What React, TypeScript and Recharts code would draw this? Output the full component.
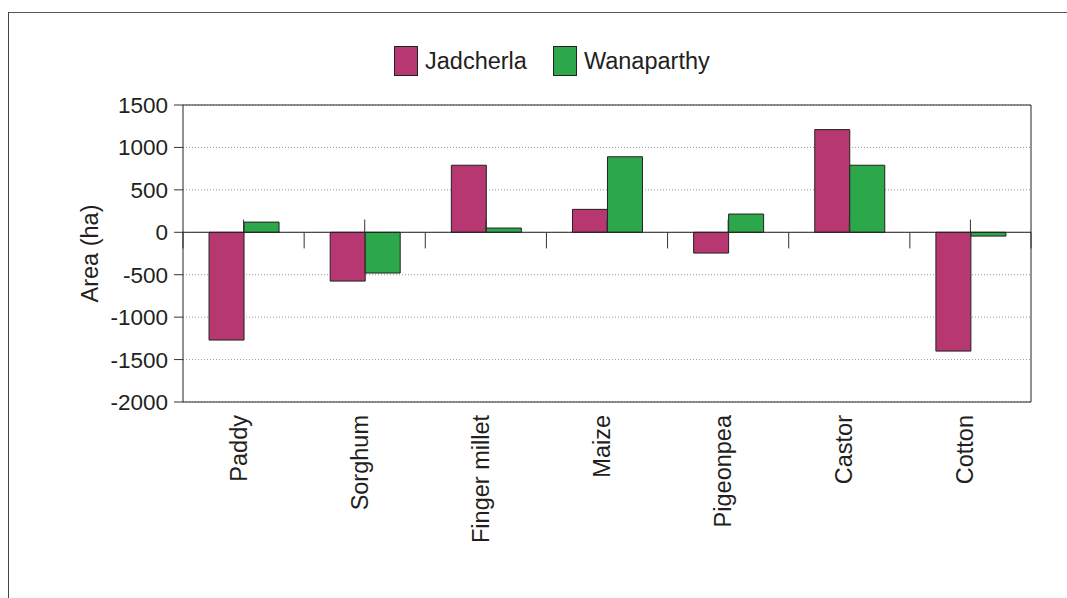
import React from "react";
import {
  BarChart,
  Bar,
  XAxis,
  YAxis,
  CartesianGrid,
  ReferenceLine,
  Legend,
} from "recharts";

const categories = ["Paddy", "Sorghum", "Finger millet", "Maize", "Pigeonpea", "Castor", "Cotton"];
const jadcherla = [-1270, -575, 790, 270, -245, 1210, -1400];
const wanaparthy = [120, -480, 50, 890, 215, 790, -45];
const yTicks = [-2000, -1500, -1000, -500, 0, 500, 1000, 1500];

const FONT = '"Liberation Sans", Arial, sans-serif';
const INK = "#231f20";
const MAGENTA = "#b73771";
const GREEN = "#2ca84a";

const data = categories.map((crop, i) => ({
  crop,
  Jadcherla: jadcherla[i],
  Wanaparthy: wanaparthy[i],
}));

// group boundaries live on a hidden 0..n numeric axis
const boundaries = Array.from({ length: categories.length + 1 }, (_, i) => i);
const groupIndex = (d: any) => categories.indexOf(d.crop);

function CropTick({ x, y, payload }: any) {
  return (
    <text
      x={x}
      y={y}
      dx={-13}
      dy={3}
      transform={`rotate(-90 ${x} ${y})`}
      textAnchor="end"
      fontSize={23.5}
      fontFamily={FONT}
      fill={INK}
    >
      {payload.value}
    </text>
  );
}

function LegendBox({ payload }: any) {
  return (
    <div style={{ display: "flex", alignItems: "center", fontFamily: FONT, fontSize: 23.5, color: INK }}>
      {(payload || []).map((p: any) => (
        <div key={p.value} style={{ display: "flex", alignItems: "center", marginRight: 26 }}>
          <span
            style={{
              display: "inline-block",
              width: 24,
              height: 30,
              background: p.color,
              border: "1px solid #222",
              boxSizing: "border-box",
              marginRight: 7,
            }}
          />
          {p.value}
        </div>
      ))}
    </div>
  );
}

export default function App() {
  return (
    <>
      <style>{`html,body{margin:0;overflow:hidden;background:#fff}`}</style>
      <div
        style={{
          position: "absolute",
          left: 8,
          top: 12,
          width: 1058,
          height: 585,
          borderTop: "1px solid #555",
          borderLeft: "1px solid #444",
          background: "#fff",
        }}
      >
        <BarChart
          width={1058}
          height={585}
          data={data}
          margin={{ top: 92, right: 36, bottom: 46, left: 0 }}
          barCategoryGap="21.5%"
          barGap={0}
        >
          <CartesianGrid horizontal vertical={false} stroke="#9a9a9a" strokeDasharray="1 2" />
          <XAxis
            dataKey="crop"
            height={150}
            interval={0}
            tickLine={false}
            tickSize={0}
            tickMargin={0}
            axisLine={{ stroke: "#222" }}
            tick={<CropTick />}
          />
          <XAxis
            xAxisId="b"
            type="number"
            dataKey={groupIndex}
            domain={[0, categories.length]}
            ticks={boundaries}
            allowDataOverflow
            hide
          />
          <YAxis
            width={174}
            domain={[-2000, 1500]}
            ticks={yTicks}
            interval={0}
            tickSize={9}
            tickMargin={6}
            tickLine={{ stroke: "#333" }}
            axisLine={{ stroke: "#222" }}
            tick={{ fontSize: 22.5, fill: INK, fontFamily: FONT }}
            label={{
              value: "Area (ha)",
              angle: -90,
              position: "insideLeft",
              offset: 81,
              style: { textAnchor: "middle", fontSize: 23.5, fill: INK, fontFamily: FONT },
            }}
          />
          <Legend
            layout="horizontal"
            verticalAlign="middle"
            align="center"
            wrapperStyle={{ top: 33, left: 385, width: "auto" }}
            content={<LegendBox />}
          />
          <ReferenceLine y={1500} stroke="#222" />
          <ReferenceLine y={0} stroke="#222" />
          <ReferenceLine xAxisId="b" x={categories.length} stroke="#222" />
          {boundaries.map((b) => (
            <ReferenceLine
              key={`b${b}`}
              xAxisId="b"
              segment={[{ x: b, y: 0 }, { x: b, y: -190 }]}
              stroke="#333"
            />
          ))}
          {categories.map((c) => (
            <ReferenceLine
              key={`c${c}`}
              segment={[{ x: c, y: 0 }, { x: c, y: 150 }]}
              stroke="#333"
            />
          ))}
          <Bar dataKey="Jadcherla" fill={MAGENTA} stroke="#222" strokeWidth={1} isAnimationActive={false} />
          <Bar dataKey="Wanaparthy" fill={GREEN} stroke="#222" strokeWidth={1} isAnimationActive={false} />
        </BarChart>
      </div>
    </>
  );
}
